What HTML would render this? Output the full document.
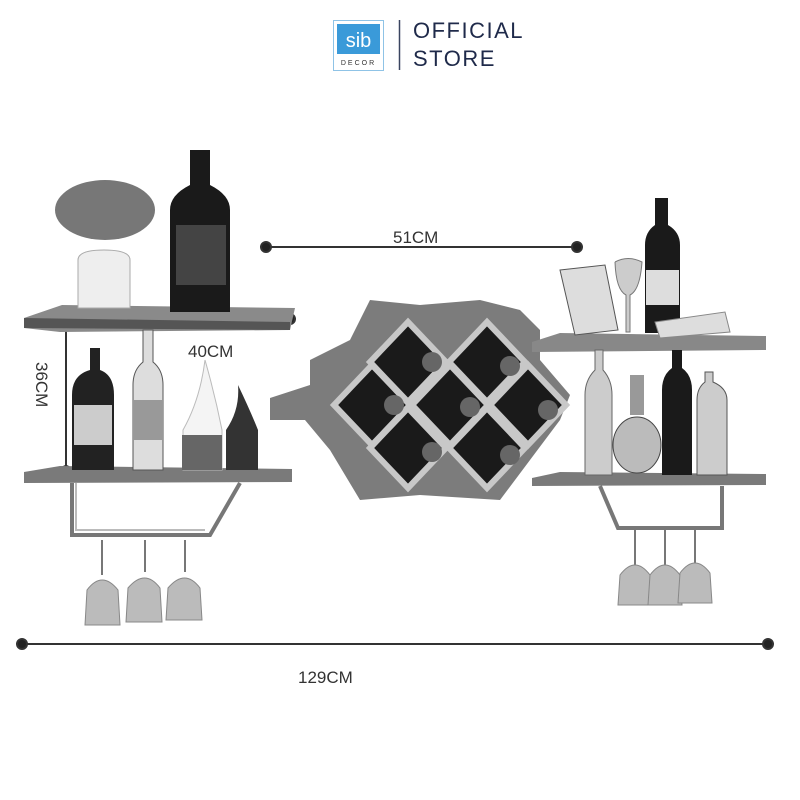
<!DOCTYPE html><html><head><style>body{margin:0;background:#fff}svg{display:block}</style></head><body>
<svg width="800" height="800" viewBox="0 0 800 800" xmlns="http://www.w3.org/2000/svg" font-family="Liberation Sans, sans-serif">
<!-- logo -->
<rect x="333.5" y="20.5" width="50" height="50" fill="#fff" stroke="#8fc3e6"/>
<rect x="337" y="24" width="43" height="30" fill="#3a9ad9"/>
<text x="358.5" y="47" font-size="20" fill="#fff" text-anchor="middle">sib</text>
<text x="358.5" y="65" font-size="7" fill="#333" text-anchor="middle" letter-spacing="2">DECOR</text>
<line x1="399.5" y1="20" x2="399.5" y2="70" stroke="#3a4560" stroke-width="1.5"/>
<text x="413" y="38" font-size="22" fill="#1f2a4a" letter-spacing="1.5">OFFICIAL</text>
<text x="413" y="66" font-size="22" fill="#1f2a4a" letter-spacing="1.5">STORE</text>
<!-- dimension lines -->
<g stroke="#333" stroke-width="2" fill="#222">
<line x1="266" y1="247" x2="577" y2="247"/><circle cx="266" cy="247" r="5"/><circle cx="577" cy="247" r="5"/>
<line x1="22" y1="644" x2="768" y2="644"/><circle cx="22" cy="644" r="5"/><circle cx="768" cy="644" r="5"/>
<line x1="66" y1="316" x2="66" y2="470"/><circle cx="66" cy="316" r="4"/><circle cx="66" cy="470" r="4"/>
<line x1="66" y1="318" x2="290" y2="318"/><circle cx="290" cy="319" r="5"/>
</g>
<g font-size="17" fill="#333">
<text x="393" y="243">51CM</text>
<text x="188" y="357">40CM</text>
<text x="298" y="683">129CM</text>
<text transform="translate(36,362) rotate(90)">36CM</text>
</g>
<!-- left shelves -->
<polygon points="24,318 62,305 295,308 290,330 60,332 24,328" fill="#8a8a8a"/>
<polygon points="24,318 290,322 290,330 24,328" fill="#555"/>
<polygon points="24,472 60,466 292,469 292,482 24,483" fill="#7a7a7a"/>
<path d="M72,483 V535 H210 L240,483" stroke="#777" stroke-width="4" fill="none"/>
<path d="M76,483 V530 H205" stroke="#bbb" stroke-width="2" fill="none"/>
<!-- left items -->
<ellipse cx="105" cy="210" rx="50" ry="30" fill="#777"/>
<path d="M78,260 Q78,250 104,250 Q130,250 130,260 V308 H78 Z" fill="#eee" stroke="#aaa"/>
<path d="M170,312 V210 Q170,195 190,185 V150 H210 V185 Q230,195 230,210 V312 Z" fill="#1a1a1a"/>
<rect x="176" y="225" width="50" height="60" fill="#444"/>
<path d="M72,470 V395 Q72,375 90,370 V348 H100 V370 Q114,375 114,395 V470 Z" fill="#222"/>
<rect x="74" y="405" width="38" height="40" fill="#ccc"/>
<path d="M133,470 V385 Q133,370 143,362 V330 H153 V362 Q163,370 163,385 V470 Z" fill="#ddd" stroke="#555"/>
<rect x="134" y="400" width="28" height="40" fill="#999"/>
<path d="M183,470 V430 Q200,400 205,360 Q215,395 222,430 V470 Z" fill="#f4f4f4" stroke="#bbb"/>
<rect x="182" y="435" width="40" height="35" fill="#666"/>
<path d="M226,470 V430 Q240,410 238,385 Q250,410 258,430 V470 Z" fill="#333"/>
<!-- left glasses -->
<g fill="#bbb" stroke="#888">
<path d="M102,540 V575 M145,540 V572 M185,540 V572" stroke="#777" stroke-width="2"/>
<path d="M85,625 L87,590 Q102,570 118,590 L120,625 Z"/>
<path d="M126,622 L128,588 Q145,568 160,588 L162,622 Z"/>
<path d="M166,620 L168,588 Q185,568 200,588 L202,620 Z"/>
</g>
<!-- rack -->
<polygon points="270,398 310,385 310,360 350,340 370,300 420,305 480,300 520,310 540,330 540,360 570,395 560,420 530,460 500,500 420,495 360,500 330,450 305,420 270,420" fill="#7c7c7c"/>
<g fill="#1a1a1a" stroke="#c8c8c8" stroke-width="6">
<polygon points="408,322 446,362 408,402 370,362"/>
<polygon points="487,322 525,362 487,402 449,362"/>
<polygon points="372,365 410,405 372,445 334,405"/>
<polygon points="450,365 488,405 450,445 412,405"/>
<polygon points="528,365 566,405 528,445 490,405"/>
<polygon points="408,408 446,448 408,488 370,448"/>
<polygon points="487,408 525,448 487,488 449,448"/>
</g>
<g fill="#666"><circle cx="432" cy="362" r="10"/><circle cx="510" cy="366" r="10"/><circle cx="394" cy="405" r="10"/><circle cx="470" cy="407" r="10"/><circle cx="548" cy="410" r="10"/><circle cx="432" cy="452" r="10"/><circle cx="510" cy="455" r="10"/></g>
<!-- right shelves -->
<polygon points="532,342 560,333 766,336 766,350 532,352" fill="#888"/>
<polygon points="532,478 560,472 766,474 766,485 532,486" fill="#7a7a7a"/>
<path d="M600,486 L618,528 H722 V486" stroke="#777" stroke-width="4" fill="none"/>
<!-- right items -->
<polygon points="560,270 605,265 618,330 575,335" fill="#ddd" stroke="#555"/>
<path d="M615,262 Q628,255 642,262 Q640,290 630,295 V332 H626 V295 Q616,290 615,262" fill="#ccc" stroke="#777"/>
<path d="M645,333 V245 Q645,232 655,225 V198 H668 V225 Q680,232 680,245 V333 Z" fill="#1a1a1a"/>
<rect x="646" y="270" width="33" height="35" fill="#ddd"/>
<path d="M655,322 L725,312 L730,332 L660,338 Z" fill="#ddd" stroke="#888"/>
<path d="M585,475 V395 Q585,380 595,370 V350 H603 V370 Q612,380 612,395 V475 Z" fill="#ccc" stroke="#666"/>
<ellipse cx="637" cy="445" rx="24" ry="28" fill="#bbb" stroke="#444"/>
<rect x="630" y="375" width="14" height="40" fill="#999"/>
<path d="M662,475 V390 Q662,375 672,368 V350 H682 V368 Q692,375 692,390 V475 Z" fill="#1a1a1a"/>
<path d="M697,475 V400 Q697,388 705,382 V372 H713 V382 Q727,388 727,400 V475 Z" fill="#ccc" stroke="#555"/>
<!-- right glasses -->
<g fill="#bbb" stroke="#888">
<path d="M635,530 V565 M665,530 V565 M695,530 V565" stroke="#777" stroke-width="2"/>
<path d="M618,605 L620,575 Q635,555 650,575 L652,605 Z"/>
<path d="M648,605 L650,575 Q665,555 680,575 L682,605 Z"/>
<path d="M678,603 L680,573 Q695,553 710,573 L712,603 Z"/>
</g>
</svg>
</body></html>
